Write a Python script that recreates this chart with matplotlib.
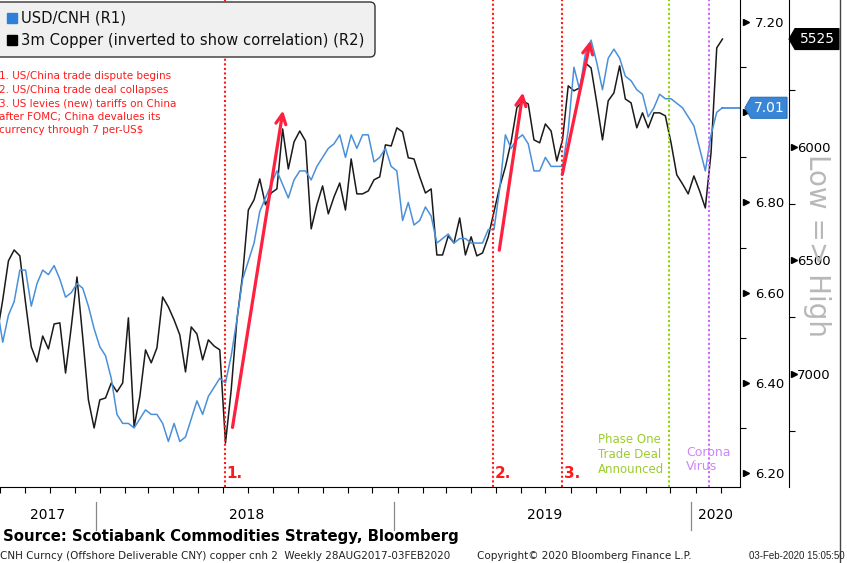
import numpy as np
import pandas as pd
import matplotlib
matplotlib.use('Agg')
import matplotlib.pyplot as plt
import matplotlib.dates as mdates
from matplotlib.ticker import MultipleLocator, FixedLocator, FuncFormatter
from matplotlib.patches import Polygon, FancyBboxPatch
from matplotlib.lines import Line2D
from matplotlib.transforms import IdentityTransform, blended_transform_factory

## DATA (weekly, 28AUG2017 - 03FEB2020) ##
dates = pd.date_range('2017-08-28', periods=128, freq='7D')

usdcnh = [6.57,
          6.49, 6.55, 6.58, 6.65, 6.65, 6.57, 6.62, 6.65, 6.64, 6.66,
          6.63, 6.59, 6.60, 6.62, 6.61, 6.57, 6.52, 6.48, 6.46, 6.41,
          6.33, 6.31, 6.31, 6.30, 6.32, 6.34, 6.33, 6.33, 6.31, 6.27,
          6.31, 6.27, 6.28, 6.32, 6.36, 6.33, 6.37, 6.39, 6.41, 6.40,
          6.46, 6.54,
          6.63, 6.67, 6.71, 6.78, 6.81, 6.84, 6.87, 6.84, 6.81, 6.85,
          6.87, 6.87, 6.85, 6.88, 6.90, 6.92, 6.93, 6.95, 6.90, 6.95,
          6.92, 6.95, 6.95, 6.89, 6.90, 6.92, 6.88, 6.87, 6.76, 6.80,
          6.75, 6.76, 6.79, 6.77, 6.71, 6.72, 6.73, 6.71, 6.72, 6.72,
          6.71, 6.71, 6.71, 6.74, 6.74, 6.83, 6.95, 6.92, 6.94, 6.95,
          6.93, 6.87, 6.87, 6.90, 6.88, 6.88, 6.88, 6.96, 7.10, 7.05,
          7.13, 7.16, 7.11, 7.05, 7.12, 7.14, 7.12, 7.08, 7.07, 7.05,
          7.04, 6.99, 7.01, 7.04, 7.03, 7.03, 7.02, 7.01, 6.99, 6.97,
          6.92, 6.87, 6.95, 7.00, 7.01]

copper = [6828,
          6674, 6502, 6454, 6480, 6687, 6881, 6947, 6833, 6890, 6780,
          6775, 6996, 6793, 6573, 6837, 7114, 7238, 7114, 7106, 7040,
          7079, 7040, 6753, 7233, 7101, 6894, 6951, 6885, 6661, 6705,
          6762, 6828, 6991, 6793, 6824, 6938, 6850, 6877, 6894, 7304,
          7070, 6762,
          6564, 6278, 6233, 6141, 6255, 6203, 6185, 5921, 6097, 5978,
          5930, 5974, 6361, 6255, 6172, 6295, 6220, 6159, 6278, 6053,
          6207, 6207, 6194, 6145, 6132, 5991, 5996, 5916, 5934, 6048,
          6053, 6132, 6203, 6185, 6476, 6476, 6392, 6423, 6313, 6476,
          6396, 6480, 6467, 6396, 6286, 6176, 6088, 5978, 5828, 5797,
          5811, 5969, 5982, 5899, 5930, 6062, 5969, 5731, 5753, 5740,
          5630, 5652, 5806, 5969, 5797, 5762, 5643, 5789, 5806, 5916,
          5850, 5916, 5850, 5850, 5863, 5982, 6123, 6163, 6207, 6128,
          6194, 6269, 6026, 5564, 5525]

event_dates = ['2018-06-03', '2019-04-28', '2019-07-21']
event_labels = ['1.', '2.', '3.']
phase_one_date = '2019-11-29'
corona_date = '2020-01-18'

# arrows: (tail date, tail USD/CNH) -> (tip date, tip USD/CNH)
arrow_tails = [('2018-06-12', 6.295), ('2019-05-05', 6.688), ('2019-07-21', 6.856)]
arrow_tips = [('2018-08-14', 7.01), ('2019-06-04', 7.05), ('2019-08-26', 7.165)]

years = [2017, 2018, 2019, 2020]

notes = ("1. US/China trade dispute begins\n"
         "2. US/China trade deal collapses\n"
         "3. US levies (new) tariffs on China\n"
         "after FOMC; China devalues its\n"
         "currency through 7 per-US\\$")

W, H = 847, 563
BLUE = '#4a90d9'
RED = '#ff1a1a'


def dn(d):
    return mdates.date2num(pd.Timestamp(d))


def r1_fmt(v, pos):
    # the 7.00 label sits under the last-value tag
    if abs(v - 7.0) < 1e-6:
        return ''
    return '%.2f' % v


def main():
    plt.rcParams['font.family'] = ['DejaVu Sans']
    fig = plt.figure(figsize=(W / 100, H / 100), dpi=100)
    ax = fig.add_axes([0, 76 / H, 740 / W, 487 / H])
    ax2 = ax.twinx()

    x = mdates.date2num(dates)
    xmin = dn('2017-08-31 16:00')
    xmax = dn('2020-02-24 12:00')

    # lines
    ax2.plot(x, copper, color='#1a1a1a', lw=1.1)
    ax.plot(x, usdcnh, color=BLUE, lw=1.1)
    ax.plot([x[-1], xmax], [usdcnh[-1], usdcnh[-1]], color='#3a86d6', lw=1.2, clip_on=False)

    ax.set_zorder(ax2.get_zorder() + 1)
    ax.patch.set_visible(False)

    ax.set_xlim(xmin, xmax)
    ax.set_ylim(6.169, 7.249)
    ax2.set_ylim(7498, 5353)

    # spines
    for s in ['left', 'top']:
        ax.spines[s].set_visible(False)
    for s in ['left', 'top', 'bottom']:
        ax2.spines[s].set_visible(False)
    ax2.spines['right'].set_position(('axes', 789 / 740))

    # R1 axis
    ax.yaxis.tick_right()
    ax.yaxis.set_major_locator(MultipleLocator(0.2))
    ax.yaxis.set_minor_locator(MultipleLocator(0.1))
    ax.yaxis.set_major_formatter(FuncFormatter(r1_fmt))
    ax.tick_params(axis='y', which='major', length=0, pad=11, labelsize=9.5)
    ax.tick_params(axis='y', which='minor', length=4, direction='out', width=0.8)

    # R2 axis
    ax2.yaxis.set_major_locator(FixedLocator([6000, 6500, 7000]))
    ax2.yaxis.set_minor_locator(FixedLocator([5750, 6250, 6750, 7250]))
    ax2.tick_params(axis='y', which='major', length=0, pad=6, labelsize=9.5)
    ax2.tick_params(axis='y', which='minor', length=4, direction='out', width=0.8)

    # triangle tick marks
    tr1 = blended_transform_factory(ax.transAxes, ax.transData)
    r1_ticks = np.arange(6.2, 7.21, 0.2)
    ax.plot([1 + 6 / 740] * len(r1_ticks), r1_ticks, ls='none', marker='>', ms=5,
            color='black', transform=tr1, clip_on=False)
    tr2 = blended_transform_factory(ax2.transAxes, ax2.transData)
    r2_ticks = [6000, 6500, 7000]
    ax2.plot([794 / 740] * 3, r2_ticks, ls='none', marker='>', ms=5,
             color='black', transform=tr2, clip_on=False)

    # x axis: monthly ticks, no labels
    ax.xaxis.set_major_locator(mdates.MonthLocator())
    ax.xaxis.set_major_formatter(plt.NullFormatter())
    ax.tick_params(axis='x', which='major', length=4, direction='out', width=0.8)

    # year labels and separators
    trx = blended_transform_factory(ax.transData, ax.transAxes)
    for yr in years:
        start = max(dn(f'{yr}-01-01'), xmin)
        end = min(dn(f'{yr + 1}-01-01'), xmax)
        mid = (start + end) / 2
        ax.text(mid - 3, (487 - 515) / 487, str(yr), transform=trx, ha='center', va='center',
                fontsize=10, clip_on=False)
        if yr > 2017:
            ax.plot([start - 5, start - 5], [(487 - 502) / 487, (487 - 530) / 487], color='#888888',
                    lw=0.9, transform=trx, clip_on=False)

    # event lines
    for d, lab in zip(event_dates, event_labels):
        ax.axvline(dn(d), color=RED, ls=(0, (1, 1.2)), lw=1.5)
        ax.annotate(lab, xy=(dn(d), 0), xycoords=trx, xytext=(2, 6),
                    textcoords='offset pixels', color=RED, fontsize=11, fontweight='bold',
                    ha='left', va='bottom')
    ax.axvline(dn(phase_one_date), color='#8fd400', ls=(0, (1, 1.2)), lw=1.5)
    ax.axvline(dn(corona_date), color='#cc66ff', ls=(0, (1, 1.2)), lw=1.5)
    ax.annotate('Phase One\nTrade Deal\nAnnounced', xy=(dn(phase_one_date), 0),
                xycoords=trx, xytext=(-4, 11), textcoords='offset pixels', ha='right',
                va='bottom', multialignment='left', color='#9ccc30', fontsize=8.5, linespacing=1.2)
    ax.annotate('Corona\nVirus', xy=(dn(corona_date), 0), xycoords=trx,
                xytext=(-23, 14), textcoords='offset pixels', ha='left', va='bottom',
                multialignment='left', color='#cc88f5', fontsize=9, linespacing=1.15)

    # arrows
    for (td, tv), (hd, hv) in zip(arrow_tails, arrow_tips):
        ax.annotate('', xy=(dn(hd), hv), xytext=(dn(td), tv),
                    arrowprops=dict(arrowstyle='->', color='#ff2040', lw=2.3, mutation_scale=18))

    # red notes
    fig.text(-1 / W, 1 - 71 / H, notes, color=RED, fontsize=7.5, ha='left', va='top', linespacing=1.45)

    # legend box
    fig.add_artist(FancyBboxPatch((-6, H - 57), 381, 55, boxstyle='round,pad=0,rounding_size=5',
                                  transform=IdentityTransform(), fc='#f0f0f0', ec='#333333', lw=1,
                                  zorder=5))
    leg_items = [('USD/CNH (R1)', '#2f7fd8'), ('3m Copper (inverted to show correlation) (R2)', '#000000')]
    for i, (txt, col) in enumerate(leg_items):
        yy = H - 18 - 22 * i
        fig.add_artist(Line2D([12], [yy], marker='s', ms=7.5, color=col, ls='none',
                              transform=IdentityTransform(), zorder=6))
        fig.text(21 / W, yy / H, txt, fontsize=10.6, va='center', ha='left', color='#111111',
                 zorder=6)

    # last value tags
    fig.canvas.draw()
    yb = ax.transData.transform((xmin, usdcnh[-1]))[1]
    fig.add_artist(Polygon([(745, yb), (751, yb + 10.5), (787, yb + 10.5), (787, yb - 10.5), (751, yb - 10.5)],
                           closed=True, fc='#3a86d6', ec='#2a6fb8', lw=0.8, transform=IdentityTransform(),
                           zorder=5))
    fig.text(769 / W, yb / H, '%.2f' % usdcnh[-1], color='white', fontsize=10, ha='center', va='center',
             zorder=6)
    yk = ax2.transData.transform((xmin, copper[-1]))[1]
    fig.add_artist(Polygon([(789, yk), (795, yk + 10.5), (839, yk + 10.5), (839, yk - 10.5), (795, yk - 10.5)],
                           closed=True, fc='black', ec='black', lw=0.8, transform=IdentityTransform(),
                           zorder=5))
    fig.text(817 / W, yk / H, '%d' % copper[-1], color='white', fontsize=10, ha='center', va='center',
             zorder=6)

    # Low => High
    fig.text(817 / W, 1 - 245 / H, 'Low => High', rotation=-90, color='#b8b8b8', fontsize=20,
             ha='center', va='center')

    # right frame
    fig.add_artist(Line2D([840 / W, 840 / W], [0, 1], transform=fig.transFigure, color='#444444', lw=1))

    # source and footer
    fig.text(3 / W, 1 - 537 / H, 'Source: Scotiabank Commodities Strategy, Bloomberg',
             fontsize=10.7, fontweight='bold', ha='left', va='center')
    fig.text(0, 1 - 556 / H, 'CNH Curncy (Offshore Deliverable CNY) copper cnh 2  Weekly 28AUG2017-03FEB2020',
             fontsize=7.5, ha='left', va='center', color='#222222')
    fig.text(477 / W, 1 - 556 / H, 'Copyright\u00a9 2020 Bloomberg Finance L.P.',
             fontsize=7.5, ha='left', va='center', color='#222222')
    fig.text(845 / W, 1 - 556 / H, '03-Feb-2020 15:05:50', family=['Liberation Sans', 'DejaVu Sans'],
             fontsize=7, ha='right', va='center', color='#222222')

    fig.savefig('out.png', dpi=100)
    plt.close(fig)


if __name__ == "__main__":
    main()
